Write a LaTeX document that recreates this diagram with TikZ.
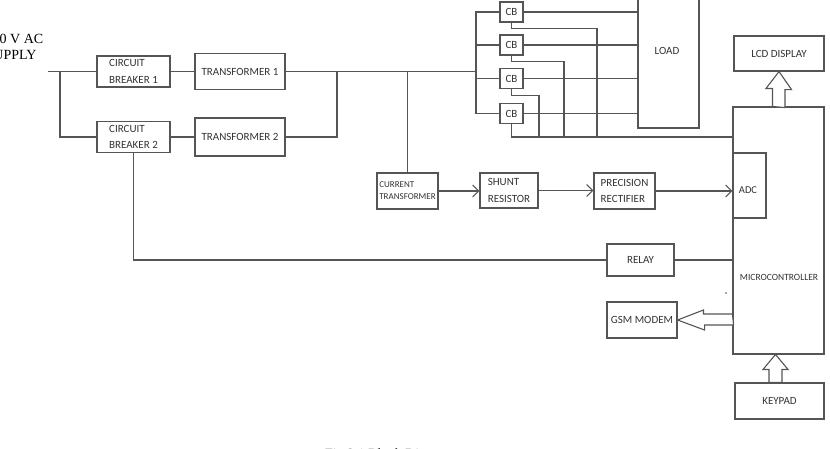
\documentclass[tikz,border=0pt]{standalone}
\usepackage{fontspec}
\setmainfont{Carlito}
\newfontfamily\serifface{Liberation Serif}
\usetikzlibrary{arrows.meta}
\definecolor{wirec}{HTML}{555555}
\definecolor{textc}{HTML}{333333}

\begin{document}
\begin{tikzpicture}[x=1pt,y=-1pt,
  wire/.style={draw=wirec, line width=1.1pt},
  arr/.style={-{Straight Barb[length=6pt,width=12pt]}},
  hollow/.style={draw=wirec, line width=1.1pt, fill=white, line join=miter},
  sz/.style 2 args={minimum width=#1, minimum height=#2},
  box/.style={draw=wirec, line width=1.1pt, inner sep=0pt, text=textc, align=left,
              font=\fontsize{11}{16.5}\selectfont},
  cbbox/.style={box, minimum width=23, minimum height=20, font=\fontsize{11}{12}\selectfont},
  lbl/.style={inner sep=0pt, text=textc, font=\fontsize{11}{13}\selectfont},
  serif/.style={inner sep=0pt, text=black, font=\serifface\fontsize{14}{16}\selectfont}
]
\useasboundingbox (0,0) rectangle (830,448);

% supply label
\node[serif, anchor=base west] (sup1) at (-14.5,43) {230 V AC};
\node[serif, anchor=base west] (sup2) at (-14.5,59.5) {SUPPLY};

% input stage
\node[box, sz={73}{31}] (cb1) at (133.5,71.5) {CIRCUIT\\BREAKER 1};
\node[box, sz={73}{31}] (cb2) at (133.5,137) {CIRCUIT\\BREAKER 2};
\node[box, sz={90}{36}] (tr1) at (240,71.5) {TRANSFORMER 1};
\node[box, sz={90}{38}] (tr2) at (240,137) {TRANSFORMER 2};

% load breakers and load
\node[cbbox] (cba) at (511.5,12) {CB};
\node[cbbox] (cbb) at (511.5,45) {CB};
\node[cbbox] (cbc) at (511.5,78.5) {CB};
\node[cbbox] (cbd) at (511.5,113.5) {CB};
\node[box, sz={61}{140}] (load) at (668.5,58) {};
\node[lbl] (loadtxt) at (667,51) {LOAD};

% controller side
\node[box, sz={90}{35}] (lcd) at (779,53.5) {LCD DISPLAY};
\node[box, sz={91}{247}] (mcu) at (778.5,230.5) {};
\node[lbl, font=\fontsize{9.5}{11}\selectfont] (mcutxt) at (779,277) {MICROCONTROLLER};
\node[box, sz={33}{65}] (adc) at (749.5,185.5) {};
\node[lbl, font=\fontsize{10.5}{12}\selectfont] (adctxt) at (748,190) {ADC};
\node[box, sz={89}{36}] (keypad) at (779.5,401) {KEYPAD};

% measurement chain
\node[box, sz={61}{36}, font=\fontsize{9}{12}\selectfont] (ct) at (407.5,191) {CURRENT\\TRANSFORMER};
\node[box, sz={58}{35}] (shunt) at (509,190.5) {SHUNT\\RESISTOR};
\node[box, sz={61}{36}] (prec) at (624.5,191) {PRECISION\\RECTIFIER};
\node[box, sz={67}{32}] (relay) at (640.5,260) {RELAY};
\node[box, sz={70}{36}] (gsm) at (642,320) {GSM MODEM};

% supply wiring
\coordinate (sup) at (48,71.5);
\coordinate (jsplit) at (60,71.5);
\coordinate (jmerge) at (337,71.5);
\coordinate (busx) at (476,71.5);
\draw[wire] (sup) -- (cb1.west);
\draw[wire] (jsplit) |- (cb2.west);
\draw[wire] (cb1.east) -- (tr1.west);
\draw[wire] (cb2.east) -- (tr2.west);
\draw[wire] (tr1.east) -- (busx);
\draw[wire] (tr2.east) -| (jmerge);
\draw[wire] (ct.north) -- (ct.north |- busx);

% breaker bus
\draw[wire] (cba.west) -| (busx) |- (cbd.west);
\draw[wire] (cbb.west) -- (cbb.west -| busx);
\draw[wire] (cbc.west) -- (cbc.west -| busx);
\foreach \c in {cba,cbb,cbc,cbd}
  \draw[wire] (\c.east) -- (\c.east -| load.west);

% breaker control returns
\coordinate (ra) at (597,137);
\coordinate (rb) at (564,137);
\coordinate (rc) at (539,137);
\coordinate (rtn) at (512,137);
\draw[wire] (cba.south) -- ++(0,6) -| (ra);
\draw[wire] (cbb.south) -- ++(0,6) -| (rb);
\draw[wire] (cbc.south) -- ++(0,6.5) -| (rc);
\draw[wire] (cbd.south) |- (mcu.west |- rtn);

% relay
\draw[wire] (cb2.south) |- (relay.west);
\draw[wire] (relay.east) -- (relay.east -| mcu.west);

% measurement arrows
\draw[wire, arr] (ct.east) -- (ct.east -| shunt.west);
\draw[wire, arr] (shunt.east) -- (shunt.east -| prec.west);
\draw[wire, arr] (prec.east) -- (prec.east -| adc.west);

% block arrows
\draw[hollow] (mcu.north) ++(-6,0) -- ++(0,-18) -- ++(-6.5,0) -- (lcd.south)
  -- ++(12.5,18) -- ++(-6.5,0) -- ++(0,18) -- cycle;
\draw[hollow] (keypad.north) ++(-10.5,0) -- ++(0,-13) -- ++(-6,0) -- ++(12.5,-15)
  -- ++(12.5,15) -- ++(-6,0) -- ++(0,13) -- cycle;
\draw[hollow] (gsm.east -| mcu.west) ++(0,-6) -- ++(-29,0) -- ++(0,-4) -- (gsm.east)
  -- ++(27,10) -- ++(0,-5) -- ++(29,0) -- cycle;

\fill[wirec] (726,293) circle (0.9);

% caption
\node[serif, anchor=base west] (caption) at (325,458.5) {Fig 3.1 Block Diagram};
\end{tikzpicture}
\end{document}
